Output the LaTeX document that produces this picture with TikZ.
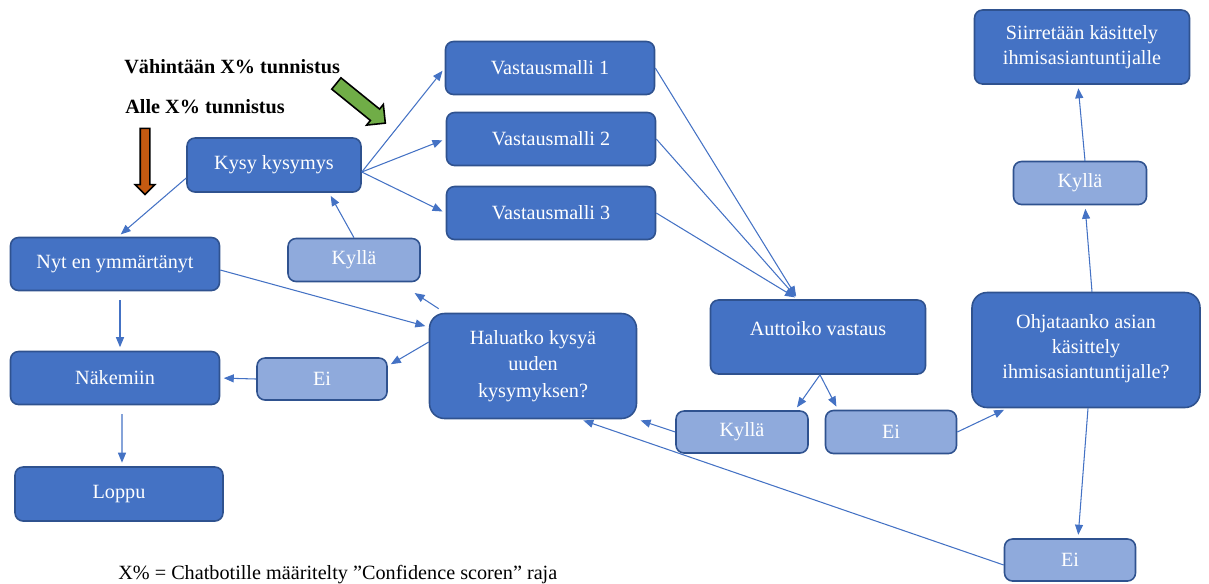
\documentclass[tikz,border=0pt]{standalone}
\usepackage{fontspec}
\setmainfont{Liberation Serif}
\usetikzlibrary{arrows.meta, shapes.arrows}
\definecolor{boxblue}{HTML}{4472C4}
\definecolor{edgeblue}{HTML}{2F528F}
\definecolor{lightblue}{HTML}{8FAADC}
\definecolor{arrowgreen}{HTML}{70AD47}
\definecolor{arroworange}{HTML}{C55A11}

\begin{document}
\begin{tikzpicture}[x=0.02cm, y=-0.02cm,
	darkbox/.style={shape=rectangle, rounded corners=0.16cm, draw=edgeblue, line width=0.9pt, fill=boxblue, text=white, align=center, font=\fontsize{11.5}{14}\selectfont},
	lightbox/.style={darkbox, fill=lightblue},
	wire/.style={draw=boxblue, line width=0.6pt, -{Triangle[length=0.2cm, width=0.16cm]}, shorten >=2pt},
	fatarrow/.style={single arrow, draw=black, line width=0.9pt, minimum height=#1}]
	\useasboundingbox (0, 0) rectangle (1209, 583);
	% Boxes:
	\node[darkbox, minimum width=4.18cm, minimum height=1.06cm] (malli1) at (550, 68){Vastausmalli 1};
	\node[darkbox, minimum width=4.18cm, minimum height=1.06cm] (malli2) at (551, 139){Vastausmalli 2};
	\node[darkbox, minimum width=4.18cm, minimum height=1.06cm] (malli3) at (551, 213){Vastausmalli 3};
	\node[darkbox, minimum width=3.48cm, minimum height=1.08cm] (kysy) at (274, 165){Kysy kysymys};
	\node[darkbox, minimum width=4.18cm, minimum height=1.06cm] (nyt) at (115, 264){Nyt en ymmärtänyt};
	\node[lightbox, minimum width=2.64cm, minimum height=0.86cm] (kylla1) at (354, 260){Kyllä};
	\node[darkbox, rounded corners=0.3cm, minimum width=4.14cm, minimum height=2.1cm, font=\fontsize{11.5}{15}\selectfont] (haluatko) at (533, 366){Haluatko kysyä\\uuden\\kysymyksen?};
	\node[lightbox, minimum width=2.6cm, minimum height=0.84cm] (ei1) at (322, 379){Ei};
	\node[darkbox, minimum width=4.18cm, minimum height=1.06cm] (nakemiin) at (115, 378){Näkemiin};
	\node[darkbox, minimum width=4.16cm, minimum height=1.08cm] (loppu) at (119, 494){Loppu};
	\node[darkbox, minimum width=4.3cm, minimum height=1.48cm] (auttoiko) at (818, 337){Auttoiko vastaus\\[-4pt]\mbox{}};
	\node[lightbox, minimum width=2.64cm, minimum height=0.84cm] (kylla2) at (742, 432){Kyllä};
	\node[lightbox, minimum width=2.62cm, minimum height=0.86cm] (ei2) at (891, 432){Ei};
	\node[darkbox, rounded corners=0.3cm, minimum width=4.56cm, minimum height=2.3cm] (ohjataanko) at (1086, 350){Ohjataanko asian\\käsittely\\ihmisasiantuntijalle?\\[-10pt]\mbox{}};
	\node[lightbox, minimum width=2.66cm, minimum height=0.86cm] (kylla3) at (1080, 183){Kyllä};
	\node[darkbox, minimum width=4.3cm, minimum height=1.48cm] (siirto) at (1082, 47){Siirretään käsittely\\ihmisasiantuntijalle};
	\node[lightbox, minimum width=2.62cm, minimum height=0.84cm] (ei3) at (1070, 560){Ei};
	% Texts and block arrows:
	\node[anchor=base west, inner sep=0pt, font=\bfseries\fontsize{11.5}{14}\selectfont] (yli) at (124, 73){Vähintään X\% tunnistus};
	\node[anchor=base west, inner sep=0pt, font=\bfseries\fontsize{11.5}{14}\selectfont] (alle) at (125, 113){Alle X\% tunnistus};
	\node[fatarrow=1.26cm, fill=arrowgreen, inner sep=0.13cm, single arrow head extend=0.12cm, rotate=-39] (vihrea) at (358, 101){};
	\node[fatarrow=1.32cm, fill=arroworange, inner sep=0.08cm, single arrow head extend=0.1cm, rotate=-90] (oranssi) at (145, 159){};
	\node[anchor=base west, inner sep=0pt, font=\fontsize{11.5}{14}\selectfont] (selite) at (118, 579){X\% = Chatbotille määritelty ”Confidence scoren” raja};
	% Wires:
	\coordinate (kysyulos) at ([yshift=-0.14cm]kysy.east);
	\coordinate (auttoikoon) at ([xshift=-0.4cm]auttoiko.north);
	\draw[wire] (kysyulos) -- (malli1.west);
	\draw[wire] (kysyulos) -- (malli2.west);
	\draw[wire] (kysyulos) -- (malli3.west);
	\draw[wire] ([yshift=-0.26cm]kysy.west) -- ([xshift=0.06cm]nyt.north);
	\draw[wire] (malli1.east) -- (auttoikoon);
	\draw[wire] (malli2.east) -- (auttoikoon);
	\draw[wire] (malli3.east) -- (auttoikoon);
	\draw[wire] (kylla1.north) -- ([xshift=1.1cm]kysy.south);
	\draw[wire] ([yshift=-0.12cm]nyt.east) -- ([yshift=0.78cm]haluatko.west);
	\draw[wire, shorten <=5pt] ([xshift=0.1cm]nyt.south) -- ([xshift=0.1cm]nakemiin.north);
	\draw[wire, shorten <=5pt] ([xshift=0.14cm]nakemiin.south) -- ([xshift=0.06cm]loppu.north);
	\draw[wire, shorten >=6pt] ([xshift=0.2cm, yshift=0.08cm]haluatko.north west) -- ([xshift=-0.3cm, yshift=-0.1cm]kylla1.south east);
	\draw[wire] ([yshift=0.48cm]haluatko.west) -- ([yshift=0.26cm]ei1.east);
	\draw[wire] (ei1.west) -- (nakemiin.east);
	\draw[wire] ([xshift=0.04cm]auttoiko.south) -- ([xshift=1.06cm]kylla2.north);
	\draw[wire] ([xshift=0.04cm]auttoiko.south) -- ([xshift=-1.06cm]ei2.north);
	\draw[wire] (kylla2.west) -- (haluatko.south east);
	\draw[wire] ([yshift=-0.1cm]ei3.west) -- ([xshift=0.94cm]haluatko.south);
	\draw[wire] (ei2.east) -- ([xshift=0.72cm]ohjataanko.south west);
	\draw[wire] ([xshift=0.04cm]ohjataanko.south) -- ([xshift=0.16cm]ei3.north);
	\draw[wire] ([xshift=0.12cm]ohjataanko.north) -- ([xshift=0.1cm]kylla3.south);
	\draw[wire] ([xshift=0.1cm]kylla3.north) -- ([xshift=-0.08cm]siirto.south);
\end{tikzpicture}
\end{document}
